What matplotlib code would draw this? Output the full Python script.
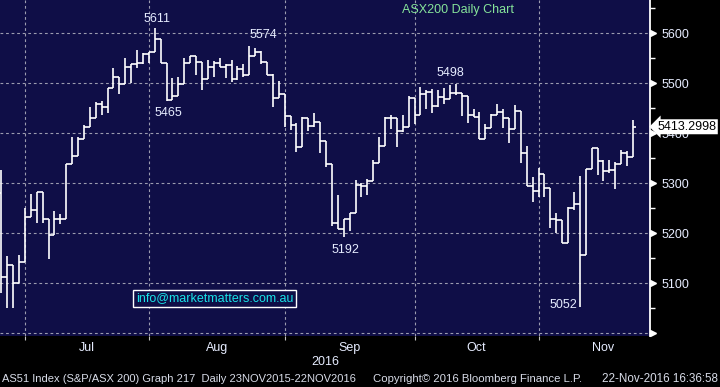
import matplotlib
matplotlib.use("Agg")
import matplotlib.pyplot as plt
import matplotlib.transforms as mtransforms
import numpy as np
import pandas as pd

plt.rcParams['font.family'] = ['Liberation Sans', 'DejaVu Sans']

# ASX200 daily bars, 24 Jun 2016 - 22 Nov 2016
dates = pd.bdate_range('2016-06-24', '2016-11-22')

opens = [5280, 5112, 5136, 5101, 5143, 5232, 5246, 5282, 5228, 5196,
         5228, 5228, 5338, 5354, 5388, 5412, 5430, 5458, 5452, 5490,
         5513, 5498, 5533, 5538, 5540, 5558, 5563, 5588, 5541, 5467,
         5475, 5498, 5540, 5555, 5543, 5508, 5532, 5540, 5532, 5537,
         5508, 5528, 5516, 5554, 5563, 5543, 5517, 5470, 5478, 5435,
         5417, 5372, 5430, 5415, 5423, 5385, 5339, 5220, 5208, 5228,
         5240, 5297, 5295, 5305, 5340, 5374, 5431, 5431, 5405, 5412,
         5471, 5437, 5478, 5483, 5455, 5473, 5468, 5480, 5480, 5475,
         5437, 5433, 5388, 5410, 5437, 5442, 5430, 5408, 5444, 5360,
         5295, 5285, 5319, 5290, 5229, 5227, 5180, 5250, 5258, 5156,
         5329, 5370, 5345, 5325, 5327, 5338, 5360, 5352]
highs = [5327, 5154, 5136, 5157, 5250, 5278, 5282, 5282, 5228, 5244,
         5238, 5338, 5392, 5392, 5416, 5453, 5463, 5465, 5490, 5531,
         5513, 5550, 5538, 5567, 5560, 5563, 5611, 5588, 5540, 5510,
         5512, 5550, 5555, 5555, 5543, 5547, 5545, 5550, 5538, 5547,
         5535, 5538, 5574, 5570, 5565, 5543, 5518, 5505, 5478, 5435,
         5420, 5432, 5430, 5440, 5423, 5385, 5339, 5277, 5228, 5241,
         5307, 5300, 5309, 5347, 5392, 5433, 5437, 5431, 5437, 5475,
         5471, 5492, 5487, 5488, 5487, 5490, 5497, 5498, 5480, 5475,
         5448, 5442, 5419, 5439, 5459, 5449, 5430, 5457, 5444, 5375,
         5313, 5330, 5319, 5290, 5240, 5227, 5252, 5283, 5315, 5329,
         5370, 5370, 5347, 5347, 5343, 5367, 5365, 5427]
lows = [5080, 5050, 5050, 5101, 5143, 5232, 5220, 5220, 5149, 5196,
        5218, 5228, 5338, 5354, 5388, 5412, 5430, 5436, 5441, 5490,
        5479, 5498, 5500, 5531, 5538, 5540, 5563, 5541, 5465, 5467,
        5475, 5498, 5540, 5517, 5487, 5508, 5513, 5532, 5510, 5502,
        5507, 5512, 5516, 5554, 5538, 5517, 5453, 5470, 5413, 5407,
        5363, 5372, 5405, 5412, 5360, 5333, 5215, 5208, 5192, 5205,
        5240, 5273, 5277, 5305, 5340, 5374, 5409, 5373, 5403, 5412,
        5418, 5437, 5449, 5441, 5453, 5459, 5468, 5477, 5435, 5421,
        5432, 5388, 5388, 5410, 5437, 5411, 5380, 5408, 5341, 5295,
        5263, 5273, 5273, 5210, 5201, 5180, 5180, 5247, 5052, 5156,
        5329, 5317, 5305, 5321, 5288, 5338, 5335, 5352]
closes = [5112, 5136, 5101, 5143, 5232, 5246, 5282, 5228, 5196, 5228,
          5228, 5338, 5354, 5388, 5412, 5430, 5458, 5452, 5490, 5513,
          5498, 5533, 5538, 5540, 5558, 5563, 5588, 5541, 5467, 5475,
          5498, 5540, 5555, 5543, 5508, 5533, 5540, 5532, 5537, 5508,
          5528, 5516, 5554, 5563, 5543, 5517, 5470, 5478, 5435, 5417,
          5372, 5430, 5415, 5423, 5385, 5339, 5220, 5208, 5228, 5240,
          5297, 5295, 5305, 5340, 5374, 5431, 5431, 5405, 5412, 5471,
          5437, 5478, 5483, 5455, 5473, 5468, 5480, 5480, 5475, 5437,
          5433, 5388, 5410, 5437, 5442, 5430, 5408, 5444, 5360, 5295,
          5285, 5319, 5290, 5229, 5227, 5180, 5250, 5258, 5156, 5329,
          5370, 5345, 5325, 5327, 5338, 5360, 5352, 5413.2998]

month_starts = ['2016-07-01', '2016-08-01', '2016-09-01', '2016-10-01', '2016-11-01']
month_names = ['Jul', 'Aug', 'Sep', 'Oct', 'Nov']

# peaks / troughs called out on the chart
callout_dates = ['2016-08-01', '2016-08-03', '2016-08-23', '2016-09-14', '2016-10-11', '2016-11-09']
callout_values = [5611, 5465, 5574, 5192, 5498, 5052]

bg = '#0f0e47'
fg = '#e6ecff'

x = np.arange(len(dates))
fig = plt.figure(figsize=(7.2, 3.87), dpi=100, facecolor='black')
ax = fig.add_axes([0, 1 - 335.5 / 387, 649.5 / 720, 335.5 / 387], facecolor=bg)

# OHLC bars
ax.vlines(x, lows, highs, color='white', lw=1.2, zorder=3)
ax.hlines(opens, x - 0.5, x, color='white', lw=1.2, zorder=3)
ax.hlines(closes, x, x + 0.5, color='white', lw=1.2, zorder=3)

ax.set_xlim(-0.22, 109.8)
ax.set_ylim(4996, 5666.7)

# month gridlines sit on the last trading day of the previous month
full = pd.bdate_range('2016-06-24', '2016-11-30')
bounds, centers = [], []
for ms in month_starts:
    ms = pd.Timestamp(ms)
    b = int(np.sum(full < ms)) - 1
    n = int(np.sum((full >= ms) & (full < ms + pd.offsets.MonthBegin(1))))
    bounds.append(b)
    centers.append(b + n / 2)

grid_kw = dict(color='#9c9cb0', lw=0.8, ls=(0, (2.5, 2.5)), zorder=1)
for b in bounds:
    ax.axvline(b, **grid_kw)
for v in range(5000, 5700, 100):
    ax.axhline(v, **grid_kw)

ax.set_xticks(bounds)
ax.set_xticklabels([])
ax.set_xticks(centers, minor=True)
ax.set_xticklabels(month_names, minor=True)
ax.tick_params(axis='x', which='major', length=3, color='#c0c0c0', direction='out')
ax.tick_params(axis='x', which='minor', length=0, pad=5, labelsize=9, labelcolor=fg)

ax.yaxis.tick_right()
ax.set_yticks(range(5000, 5700, 100))
ax.set_yticklabels([''] + [str(v) for v in range(5100, 5700, 100)])
ax.set_yticks(range(5050, 5700, 100), minor=True)
ax.tick_params(axis='y', which='major', length=0, pad=9, labelsize=9, labelcolor=fg)
ax.tick_params(axis='y', which='minor', length=3.5, width=1, color='white')

for s in ['left', 'top', 'bottom']:
    ax.spines[s].set_visible(False)
ax.spines['right'].set_color('white')
ax.spines['right'].set_linewidth(1.3)

# arrow markers on the right axis
tr = mtransforms.blended_transform_factory(ax.transAxes, ax.transData)
ax.plot([1.006] * 7, range(5000, 5700, 100), ls='none', marker='>', ms=5,
        color='white', transform=tr, clip_on=False, zorder=4)

# last price tag (covers part of the 5400 label, as on the terminal)
ax.text(1.012, closes[-1], '%.4f' % closes[-1], transform=tr, ha='left', va='center',
        fontsize=9, color='black', clip_on=False, zorder=6,
        bbox=dict(boxstyle='larrow,pad=0.12', fc='white', ec='none'))

# callouts: offsets in pixels from the bar's high/low
offsets = [(2, 9), (2, -12), (14, 11), (1.5, -13), (-5, 11), (-2.5, 2)]
aligns = ['center', 'center', 'center', 'center', 'center', 'right']
for d, v, (dx, dy), ha in zip(callout_dates, callout_values, offsets, aligns):
    i = int(np.where(dates == pd.Timestamp(d))[0][0])
    ax.annotate(str(v), (i, v), xytext=(dx * 0.72, dy * 0.72), textcoords='offset points',
                ha=ha, va='center', fontsize=9, color=fg, zorder=5)

fig.text(402 / 720, 1 - 10 / 387, 'ASX200 Daily Chart', color='#86e49a',
         fontsize=9, ha='left', va='center')
fig.text(214.5 / 720, 1 - 298 / 387, 'info@marketmatters.com.au', color='#19e3e8',
         fontsize=9, ha='center', va='center',
         bbox=dict(boxstyle='square,pad=0.2', fc=bg, ec='white', lw=1))

fig.text(325 / 720, 1 - 362 / 387, '2016', color=fg, fontsize=9, ha='center', va='center')
foot = '#d8dce8'
fig.text(2 / 720, 1 - 379 / 387, 'AS51 Index (S&P/ASX 200) Graph 217  Daily 23NOV2015-22NOV2016',
         color=foot, fontsize=8, ha='left', va='center')
fig.text(373 / 720, 1 - 379 / 387, 'Copyright\u00a9 2016 Bloomberg Finance L.P.',
         color=foot, fontsize=8.2, ha='left', va='center')
fig.text(718 / 720, 1 - 379 / 387, '22-Nov-2016 16:36:58',
         color=foot, fontsize=8.4, ha='right', va='center')

fig.savefig('out.png', dpi=100, facecolor='black')
